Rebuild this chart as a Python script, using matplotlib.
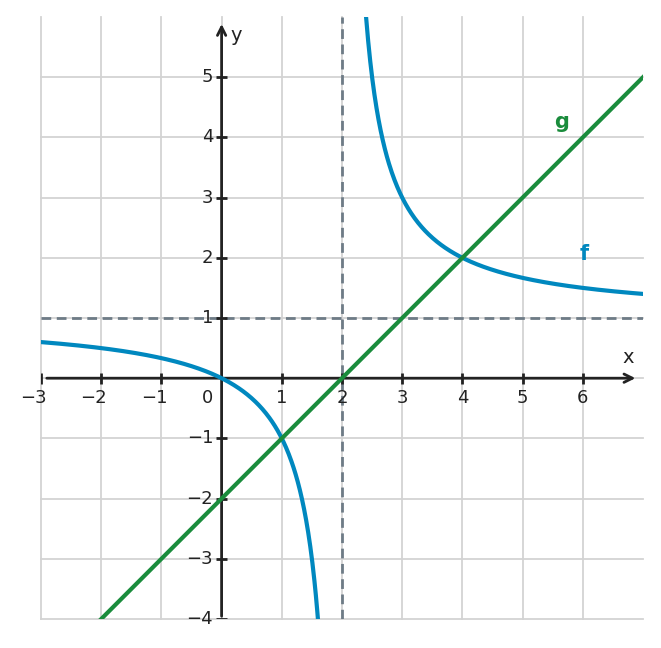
import numpy as np
import matplotlib
matplotlib.use("Agg")
import matplotlib.pyplot as plt

# Data
x_ticks = [-3, -2, -1, 1, 2, 3, 4, 5, 6]
y_ticks = [-4, -3, -2, -1, 1, 2, 3, 4, 5]
x_grid = [-3, -2, -1, 0, 1, 2, 3, 4, 5, 6]
y_grid = [-4, -3, -2, -1, 0, 1, 2, 3, 4, 5]
asym_x = 2
asym_y = 1

def f(x):
    return x / (x - 2)

def g(x):
    return x - 2

xl = np.linspace(-3, 1.6, 400)
xr = np.linspace(2.4, 7, 400)
xg = np.array([-2, 7])

TXT = "#222222"
BLUE = "#0088bf"
GREEN = "#1a8c3c"
GRID = "#d3d3d3"
DASH = "#6e7b86"

fig = plt.figure(figsize=(6.61, 6.48), dpi=100)
ax = fig.add_axes([41/661, 29/648, 602/661, 602/648])
ax.set_xlim(-3, 7)
ax.set_ylim(-4, 6)
ax.axis("off")

for gx in x_grid:
    ax.plot([gx, gx], [-4, 6], color=GRID, lw=1.3, zorder=1, clip_on=False)
for gy in y_grid:
    ax.plot([-3, 7], [gy, gy], color=GRID, lw=1.3, zorder=1, clip_on=False)

ax.plot([asym_x, asym_x], [-4, 6], color=DASH, lw=2, ls=(0, (3.5, 2)), zorder=2)
ax.plot([-3, 7], [asym_y, asym_y], color=DASH, lw=2, ls=(0, (3.5, 2)), zorder=2)

# axes
ax.annotate("", xy=(6.92, 0), xytext=(-2.95, 0),
            arrowprops=dict(arrowstyle="->,head_length=0.6,head_width=0.3", color=TXT, lw=2),
            zorder=3, annotation_clip=False)
ax.annotate("", xy=(0, 5.93), xytext=(0, -4),
            arrowprops=dict(arrowstyle="->,head_length=0.6,head_width=0.3", color=TXT, lw=2),
            zorder=3, annotation_clip=False)

tk = 0.09
for tx in x_ticks:
    ax.plot([tx, tx], [-tk, tk], color=TXT, lw=2, zorder=3, solid_capstyle="butt")
    s = str(abs(tx))
    if tx < 0:
        ax.text(tx + 0.1, -0.18, "\u2212" + s, ha="right", va="top", fontsize=13, color=TXT)
    else:
        ax.text(tx, -0.18, s, ha="center", va="top", fontsize=13, color=TXT)
for ty in y_ticks:
    ax.plot([-tk, tk], [ty, ty], color=TXT, lw=2, zorder=3, solid_capstyle="butt")
    s = str(ty).replace("-", "\u2212")
    ax.text(-0.14, ty, s, ha="right", va="center", fontsize=13, color=TXT)
ax.text(-0.14, -0.18, "0", ha="right", va="top", fontsize=13, color=TXT)

ax.text(6.75, 0.18, "x", ha="center", va="bottom", fontsize=14, color=TXT)
ax.text(0.14, 5.7, "y", ha="left", va="center", fontsize=14, color=TXT)

ax.plot(xl, f(xl), color=BLUE, lw=3, zorder=4)
ax.plot(xr, f(xr), color=BLUE, lw=3, zorder=4)
ax.plot(xg, g(xg), color=GREEN, lw=3, zorder=5)

ax.text(5.65, 4.25, "g", ha="center", va="center", fontsize=15, fontweight="bold", color=GREEN)
ax.text(6.02, 2.06, "f", ha="center", va="center", fontsize=15, fontweight="bold", color=BLUE)

fig.savefig("out.png", dpi=100)
